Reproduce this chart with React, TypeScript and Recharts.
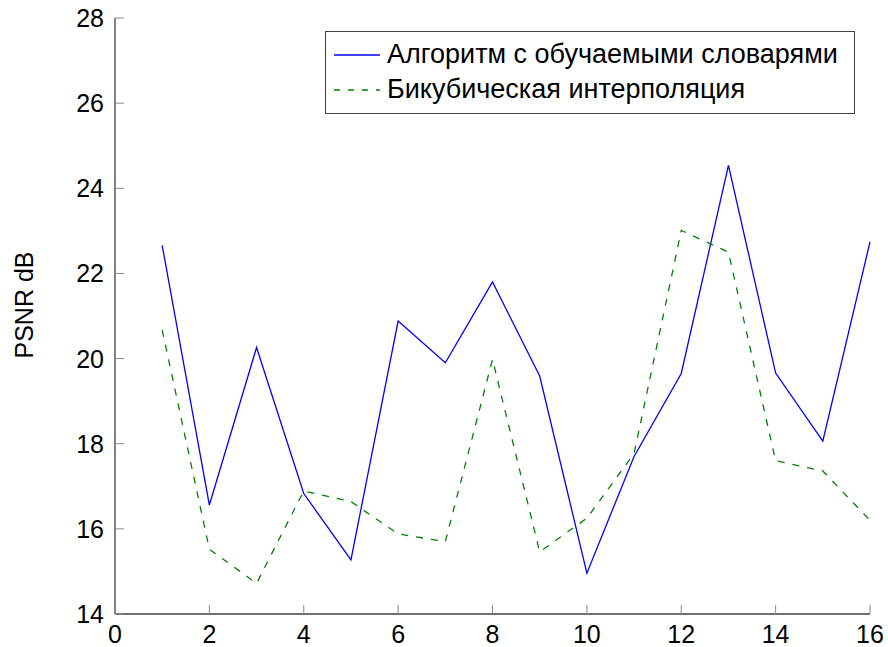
import { Legend, Line, LineChart, XAxis, YAxis } from 'recharts'

// PSNR per test image: learned-dictionary super-resolution vs. bicubic upscaling
const IMAGE_INDEX = [1, 2, 3, 4, 5, 6, 7, 8, 9, 10, 11, 12, 13, 14, 15, 16]
const LEARNED_PSNR = [22.66, 16.56, 20.26, 16.83, 15.27, 20.88, 19.9, 21.8, 19.59, 14.96, 17.7, 19.65, 24.54, 19.66, 18.06, 22.74]
const BICUBIC_PSNR = [20.67, 15.52, 14.72, 16.89, 16.64, 15.88, 15.7, 19.98, 15.46, 16.25, 17.77, 23.01, 22.5, 17.6, 17.36, 16.2]

const X_TICKS = [0, 2, 4, 6, 8, 10, 12, 14, 16]
const Y_TICKS = [14, 16, 18, 20, 22, 24, 26, 28]

const SERIES_NAMES = ['Алгоритм с обучаемыми словарями', 'Бикубическая интерполяция']
const Y_TITLE = 'PSNR dB'

const FONT = '"Liberation Sans", Arial, sans-serif'
const AXIS_COLOR = '#404040'
const TICK_COLOR = '#8a8a8a'
const TICK_LEN = 9
const BLUE = '#0000ff'
const GREEN = '#008000'

const rows = IMAGE_INDEX.map((n, i) => ({
  n,
  learned: LEARNED_PSNR[i],
  bicubic: BICUBIC_PSNR[i],
}))

// ticks point into the plot on every side, like pgfplots boxes
function BottomTick(props: any) {
  const { x, y, payload } = props
  return (
    <g>
      <line x1={x} y1={y} x2={x} y2={y - TICK_LEN} stroke={TICK_COLOR} strokeWidth={1} />
      <text x={x} y={y + 29} textAnchor="middle" fontSize={25} fontFamily={FONT} fill="#000">
        {payload.value}
      </text>
    </g>
  )
}

function TopTick(props: any) {
  const { x, y } = props
  return <line x1={x} y1={y} x2={x} y2={y + TICK_LEN} stroke={TICK_COLOR} strokeWidth={1} />
}

function LeftTick(props: any) {
  const { x, y, payload } = props
  return (
    <g>
      <line x1={x} y1={y} x2={x + TICK_LEN} y2={y} stroke={TICK_COLOR} strokeWidth={1} />
      <text x={x - 11} y={y + 9} textAnchor="end" fontSize={25} fontFamily={FONT} fill="#000">
        {payload.value}
      </text>
    </g>
  )
}

function RightTick(props: any) {
  const { x, y } = props
  return <line x1={x} y1={y} x2={x - TICK_LEN} y2={y} stroke={TICK_COLOR} strokeWidth={1} />
}

function YTitle(props: any) {
  const { viewBox } = props
  const cx = viewBox.x + 33
  const cy = viewBox.y + viewBox.height / 2 - 11
  return (
    <text
      x={cx}
      y={cy}
      transform={`rotate(-90, ${cx}, ${cy})`}
      textAnchor="middle"
      fontSize={25}
      fontFamily={FONT}
      fill="#000"
    >
      {Y_TITLE}
    </text>
  )
}

function LegendBox() {
  const entries = [
    { name: SERIES_NAMES[0], color: BLUE, dash: undefined },
    { name: SERIES_NAMES[1], color: GREEN, dash: '6 8' },
  ]
  return (
    <div
      style={{
        boxSizing: 'border-box',
        width: 530,
        height: 83,
        border: `1.3px solid ${AXIS_COLOR}`,
        background: '#fff',
        padding: '5px 0 0 8px',
        fontFamily: FONT,
        fontSize: 27,
        lineHeight: '35px',
        color: '#000',
      }}
    >
      {entries.map((e) => (
        <div key={e.name} style={{ display: 'flex', alignItems: 'center', whiteSpace: 'nowrap' }}>
          <svg width={46} height={10} style={{ marginRight: 7 }}>
            <line x1={0} y1={5} x2={46} y2={5} stroke={e.color} strokeWidth={1.3} strokeDasharray={e.dash} />
          </svg>
          <span>{e.name}</span>
        </div>
      ))}
    </div>
  )
}

export default function App() {
  return (
    <div style={{ position: 'absolute', left: 0, top: 0, width: 888, height: 647, background: '#fff' }}>
      <LineChart
        width={888}
        height={647}
        data={rows}
        margin={{ top: 18, right: 18, bottom: 0, left: 0 }}
        style={{ fontFamily: FONT }}
      >
        <XAxis
          xAxisId="bottom"
          dataKey="n"
          type="number"
          domain={[0, 16]}
          ticks={X_TICKS}
          interval={0}
          height={33}
          tickSize={0}
          tickMargin={0}
          tickLine={false}
          axisLine={{ stroke: AXIS_COLOR, strokeWidth: 1.3 }}
          tick={<BottomTick />}
        />
        <XAxis
          xAxisId="top"
          orientation="top"
          dataKey="n"
          type="number"
          domain={[0, 16]}
          ticks={X_TICKS}
          interval={0}
          height={0}
          tickSize={0}
          tickMargin={0}
          tickLine={false}
          axisLine={{ stroke: AXIS_COLOR, strokeWidth: 1.3 }}
          tick={<TopTick />}
        />
        <YAxis
          yAxisId="left"
          type="number"
          domain={[14, 28]}
          ticks={Y_TICKS}
          interval={0}
          width={115}
          tickSize={0}
          tickMargin={0}
          tickLine={false}
          axisLine={{ stroke: AXIS_COLOR, strokeWidth: 1.3 }}
          tick={<LeftTick />}
          label={{ content: (p: any) => <YTitle {...p} /> }}
        />
        <YAxis
          yAxisId="right"
          orientation="right"
          type="number"
          domain={[14, 28]}
          ticks={Y_TICKS}
          interval={0}
          width={0}
          tickSize={0}
          tickMargin={0}
          tickLine={false}
          axisLine={{ stroke: AXIS_COLOR, strokeWidth: 1.3 }}
          tick={<RightTick />}
        />
        <Legend
          layout="vertical"
          align="center"
          verticalAlign="middle"
          wrapperStyle={{ top: 31, left: 325, width: 530 }}
          content={() => <LegendBox />}
        />
        <Line
          xAxisId="bottom"
          yAxisId="left"
          dataKey="learned"
          name={SERIES_NAMES[0]}
          stroke={BLUE}
          strokeWidth={1.3}
          dot={false}
          isAnimationActive={false}
        />
        <Line
          xAxisId="bottom"
          yAxisId="left"
          dataKey="bicubic"
          name={SERIES_NAMES[1]}
          stroke={GREEN}
          strokeWidth={1.3}
          strokeDasharray="7 8"
          dot={false}
          isAnimationActive={false}
        />
      </LineChart>
    </div>
  )
}
